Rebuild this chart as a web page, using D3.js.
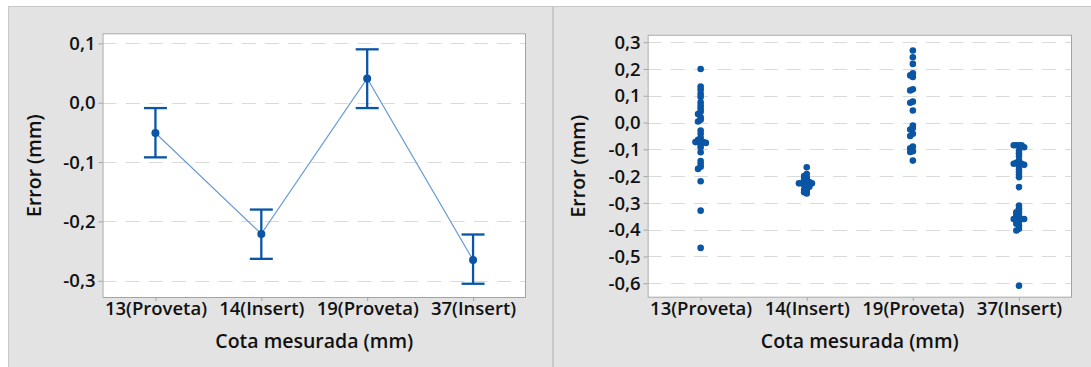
<!DOCTYPE html>
<html>
<head>
<meta charset="utf-8">
<script src="https://cdn.jsdelivr.net/npm/d3@7"></script>
<style>
  html, body { margin: 0; padding: 0; background: #fff; }
  svg { display: block; }
  text { font-family: "Open Sans", "Noto Sans", sans-serif; fill: #111; font-weight: 600; }
</style>
</head>
<body>
<svg id="chart" width="1091" height="367"></svg>
<script>
// Measured dimensions (mm) and their error summaries
const categories = ["13(Proveta)", "14(Insert)", "19(Proveta)", "37(Insert)"];

// Interval plot: mean error and 95% confidence limits per dimension
const meanError = [-0.051, -0.221, 0.041, -0.265];
const ciLower   = [-0.092, -0.263, -0.009, -0.305];
const ciUpper   = [-0.009, -0.180, 0.090, -0.222];
const intervalTicks = [0.1, 0.0, -0.1, -0.2, -0.3];

// Individual value plot: every measured error per dimension
const errors13 = [0.20, 0.134, 0.122, 0.107, 0.095, 0.076, 0.063, 0.051, 0.04, 0.032, 0.02, 0.01, 0.004,
  -0.03, -0.042, -0.057, -0.064, -0.07, -0.073, -0.073, -0.073, -0.076, -0.081, -0.092, -0.111,
  -0.144, -0.155, -0.165, -0.173, -0.219, -0.329, -0.468];
const errors14 = [-0.167, -0.192, -0.200, -0.205, -0.210, -0.215, -0.220, -0.222, -0.227, -0.227, -0.227,
  -0.227, -0.232, -0.236, -0.240, -0.245, -0.251, -0.256, -0.260, -0.265];
const errors19 = [0.269, 0.244, 0.219, 0.184, 0.176, 0.170, 0.124, 0.120, 0.078, 0.074, 0.045,
  -0.011, -0.020, -0.026, -0.042, -0.050, -0.090, -0.096, -0.107, -0.110, -0.142];
const errors37 = [-0.085, -0.085, -0.085, -0.085, -0.092, -0.105, -0.115, -0.125, -0.14, -0.15, -0.15,
  -0.154, -0.154, -0.158, -0.165, -0.175, -0.185, -0.195, -0.204, -0.241,
  -0.31, -0.32, -0.329, -0.335, -0.34, -0.345, -0.35, -0.355, -0.36, -0.36, -0.36, -0.36,
  -0.365, -0.37, -0.378, -0.385, -0.397, -0.403, -0.609];
const individualValues = [errors13, errors14, errors19, errors37];
const individualTicks = [0.3, 0.2, 0.1, 0.0, -0.1, -0.2, -0.3, -0.4, -0.5, -0.6];

const yTitle = "Error (mm)";
const xTitle = "Cota mesurada (mm)";

const BLUE = "#0a55a4";
const LINE_BLUE = "#6c9dd3";

const locale = d3.formatLocale({ decimal: ",", thousands: ".", grouping: [3], currency: ["", ""], minus: "-" });
const fmt = locale.format(".1f");

const svg = d3.select("#chart");

// Panel backgrounds
svg.append("rect").attr("x", 8.5).attr("y", 6.5).attr("width", 544).attr("height", 370)
  .attr("fill", "#e3e3e3").attr("stroke", "#c8c8c8");
svg.append("rect").attr("x", 553.5).attr("y", 6.5).attr("width", 560).attr("height", 370)
  .attr("fill", "#e3e3e3").attr("stroke", "#c8c8c8");

function panel(opts) {
  const { left, right, top, bottom, domain, ticks, titleX } = opts;
  const g = svg.append("g");
  const x = d3.scalePoint().domain(categories).range([left, right]).padding(0.5);
  const y = d3.scaleLinear().domain(domain).range([bottom, top]);

  g.append("rect").attr("x", left).attr("y", top).attr("width", right - left).attr("height", bottom - top)
    .attr("fill", "#fff");

  // dashed gridlines
  g.append("g").selectAll("line").data(ticks).join("line")
    .attr("x1", left).attr("x2", right)
    .attr("y1", d => Math.round(y(d)) + 0.5).attr("y2", d => Math.round(y(d)) + 0.5)
    .attr("stroke", "#dadada").attr("stroke-width", 1.2).attr("stroke-dasharray", "14,9.2");

  // frame
  g.append("rect").attr("x", left + 0.5).attr("y", top + 0.5)
    .attr("width", right - left - 1).attr("height", bottom - top - 1)
    .attr("fill", "none").attr("stroke", "#a3a3a3");

  const yAxis = g.append("g").attr("transform", `translate(${left},0)`)
    .call(d3.axisLeft(y).tickValues(ticks).tickFormat(fmt).tickSize(4).tickPadding(3));
  const xAxis = g.append("g").attr("transform", `translate(0,${bottom})`)
    .call(d3.axisBottom(x).tickSize(3).tickPadding(4));
  [yAxis, xAxis].forEach(a => {
    a.select(".domain").remove();
    a.selectAll(".tick line").attr("stroke", "#a3a3a3");
    a.selectAll(".tick text").attr("font-size", 18.5).attr("fill", "#111")
      .style("font-family", '"Open Sans", "Noto Sans", sans-serif').style("font-weight", 600);
  });
  xAxis.selectAll(".tick text").attr("dy", "0.55em");
  yAxis.selectAll(".tick text").attr("dy", "0.33em");

  g.append("text").attr("transform", `translate(${titleX},${(top + bottom) / 2}) rotate(-90)`)
    .attr("text-anchor", "middle").attr("dominant-baseline", "central")
    .attr("font-size", 19.5).text(yTitle);
  g.append("text").attr("x", (left + right) / 2).attr("y", 340)
    .attr("text-anchor", "middle").attr("dominant-baseline", "central")
    .attr("font-size", 19.5).text(xTitle);

  return { g, x, y };
}

// Left: interval plot
{
  const { g, x, y } = panel({ left: 102.5, right: 526, top: 33.3, bottom: 298,
    domain: [-0.329, 0.117], ticks: intervalTicks, titleX: 33 });

  g.append("path")
    .datum(categories.map((c, i) => [x(c), y(meanError[i])]))
    .attr("d", d3.line())
    .attr("fill", "none").attr("stroke", LINE_BLUE).attr("stroke-width", 1.2);

  const bars = g.append("g").selectAll("g").data(categories).join("g");
  bars.append("line")
    .attr("x1", d => x(d)).attr("x2", d => x(d))
    .attr("y1", (d, i) => y(ciUpper[i])).attr("y2", (d, i) => y(ciLower[i]))
    .attr("stroke", BLUE).attr("stroke-width", 2.3);
  [ciUpper, ciLower].forEach(lim => {
    bars.append("line")
      .attr("x1", d => x(d) - 11.5).attr("x2", d => x(d) + 11.5)
      .attr("y1", (d, i) => y(lim[i])).attr("y2", (d, i) => y(lim[i]))
      .attr("stroke", BLUE).attr("stroke-width", 2.3);
  });
  bars.append("circle")
    .attr("cx", d => x(d)).attr("cy", (d, i) => y(meanError[i]))
    .attr("r", 4).attr("fill", BLUE);
}

// Right: individual value plot, coincident values spread sideways
{
  const { g, x, y } = panel({ left: 647.6, right: 1072, top: 34.7, bottom: 297.7,
    domain: [-0.654, 0.328], ticks: individualTicks, titleX: 577.6 });

  const r = 3.3, step = 2.6, minDist = 2.2;
  const offsets = [0, -1, 1, -2, 2, -3, 3, -4, 4];
  categories.forEach((c, i) => {
    const placed = [];
    individualValues[i].slice().sort((a, b) => b - a).forEach(v => {
      const cy = y(v);
      for (const k of offsets) {
        const dx = k * step;
        if (placed.every(p => Math.hypot(p.dx - dx, p.cy - cy) >= minDist)) {
          placed.push({ dx, cy });
          break;
        }
      }
    });
    g.append("g").selectAll("circle").data(placed).join("circle")
      .attr("cx", p => x(c) + p.dx).attr("cy", p => p.cy)
      .attr("r", r).attr("fill", BLUE);
  });
}
</script>
</body>
</html>
